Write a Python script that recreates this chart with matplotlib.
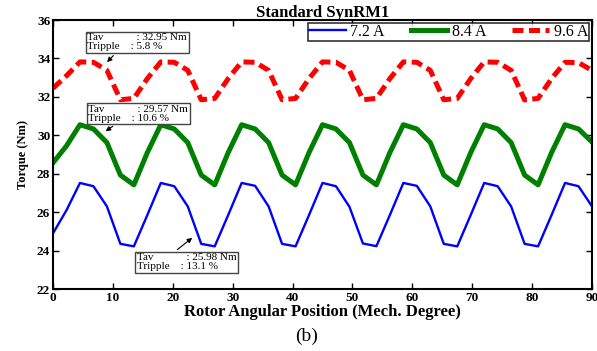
import numpy as np
import matplotlib
matplotlib.use("Agg")
import matplotlib.pyplot as plt

plt.rcParams['font.family'] = ['Liberation Serif', 'DejaVu Serif']

# Rotor position samples (mech. degree)
angle = np.linspace(0, 90, 41)

# Torque (Nm)
torque_72 = [24.90, 26.10, 27.52, 27.35, 26.30, 24.35, 24.22, 25.85,
             27.52, 27.35, 26.30, 24.35, 24.22, 25.85,
             27.52, 27.37, 26.30, 24.35, 24.22, 25.85,
             27.52, 27.35, 26.28, 24.37, 24.23, 25.85,
             27.52, 27.37, 26.30, 24.35, 24.22, 25.85,
             27.52, 27.35, 26.30, 24.35, 24.22, 25.85,
             27.52, 27.35, 26.30]
torque_84 = [28.57, 29.45, 30.55, 30.33, 29.62, 27.93, 27.42, 29.10,
             30.55, 30.33, 29.62, 27.93, 27.42, 29.10,
             30.55, 30.33, 29.62, 27.93, 27.42, 29.10,
             30.55, 30.33, 29.62, 27.93, 27.42, 29.10,
             30.55, 30.33, 29.62, 27.93, 27.42, 29.10,
             30.55, 30.33, 29.62, 27.93, 27.42, 29.10,
             30.55, 30.33, 29.65]
torque_96 = [32.45, 33.10, 33.82, 33.80, 33.38, 31.85, 31.92, 32.95,
             33.82, 33.80, 33.38, 31.85, 31.92, 32.95,
             33.82, 33.80, 33.38, 31.85, 31.92, 32.95,
             33.82, 33.80, 33.38, 31.85, 31.92, 32.95,
             33.82, 33.80, 33.38, 31.85, 31.92, 32.95,
             33.82, 33.80, 33.38, 31.84, 31.92, 32.95,
             33.80, 33.78, 33.38]

labels = ["7.2 A", "8.4 A", "9.6 A"]
notes = ["Tav            : 32.95 Nm\nTripple    : 5.8 %",
         "Tav            : 29.57 Nm\nTripple    : 10.6 %",
         "Tav            : 25.98 Nm\nTripple    : 13.1 %"]

fig = plt.figure(figsize=(5.97, 3.51), dpi=100)
ax = fig.add_axes([0.0888, 0.1766, 0.9028, 0.7664])

ax.plot(angle, torque_72, color='#0000ff', lw=1.7, label=labels[0])
ax.plot(angle, torque_84, color='#008000', lw=3.6, label=labels[1])
ax.plot(angle, torque_96, color='#ff0000', lw=3.6, dashes=(2.2, 1.1),
        label=labels[2])

ax.set_xlim(0, 90)
ax.set_ylim(22, 36)
ax.set_xticks(range(0, 91, 10))
ax.set_yticks(range(22, 37, 2))
ax.tick_params(direction='in', length=4, width=1, top=True, right=True,
               labelsize=9.5, pad=2)
for lab in ax.get_xticklabels() + ax.get_yticklabels():
    lab.set_fontweight('bold')
for sp in ax.spines.values():
    sp.set_linewidth(1.5)

ax.set_title("Standard SynRM1", fontsize=12, fontweight='bold', pad=2)
ax.set_xlabel("Rotor Angular Position (Mech. Degree)", fontsize=12,
              fontweight='bold', labelpad=0)
ax.set_ylabel("Torque (Nm)", fontsize=9, fontweight='bold', labelpad=6)

leg = ax.legend(loc='upper right', ncol=3, fontsize=11.5, frameon=True,
                fancybox=False, borderpad=0.05, handlelength=2.3,
                handletextpad=0.3, columnspacing=1.6, borderaxespad=0.2)
leg.get_frame().set_edgecolor('black')
leg.get_frame().set_linewidth(1.2)

box = dict(boxstyle='square,pad=0.15', fc='white', ec='#444444', lw=1)
ax.annotate(notes[0], xy=(8.7, 33.7), xytext=(5.75, 35.3), fontsize=8,
            linespacing=1.0, ha='left', va='top', bbox=box,
            arrowprops=dict(arrowstyle='-|>', color='black', lw=0.8,
                            mutation_scale=7, relpos=(0.3, 0)))
ax.annotate(notes[1], xy=(8.4, 30.13), xytext=(5.9, 31.6), fontsize=8,
            linespacing=1.0, ha='left', va='top', bbox=box,
            arrowprops=dict(arrowstyle='-|>', color='black', lw=0.8,
                            mutation_scale=7, relpos=(0.3, 0)))
ax.annotate(notes[2], xy=(23.6, 24.75), xytext=(13.95, 23.85), fontsize=8,
            linespacing=1.0, ha='left', va='top', bbox=box,
            arrowprops=dict(arrowstyle='-|>', color='black', lw=0.8,
                            mutation_scale=7, relpos=(0.36, 1)))

fig.text(0.513, 0.043, "(b)", fontsize=14, ha='center', va='center')

fig.savefig("out.png", dpi=100)
